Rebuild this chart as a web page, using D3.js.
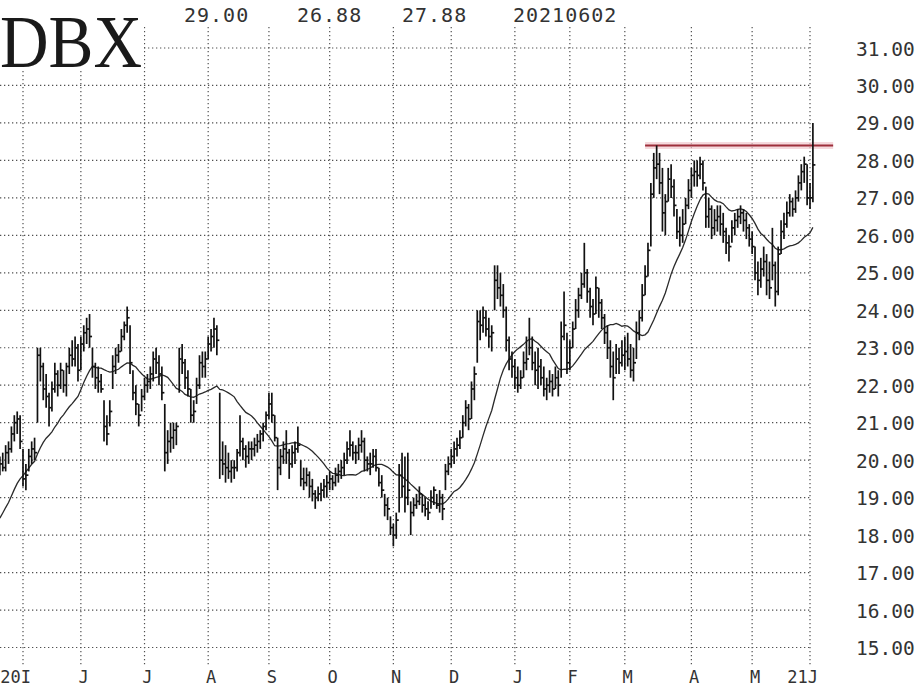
<!DOCTYPE html>
<html><head><meta charset="utf-8">
<script src="https://cdn.jsdelivr.net/npm/d3@7"></script>
<style>html,body{margin:0;padding:0;background:#fff;} svg{display:block;}</style>
</head><body>
<svg id="chart" width="918" height="686"></svg>
<script>
const symbol = "DBX";
const headerValues = ["29.00", "26.88", "27.88", "20210602"];
const priceTicks = [15, 16, 17, 18, 19, 20, 21, 22, 23, 24, 25, 26, 27, 28, 29, 30, 31];
const monthLabels = ["20I", "J", "J", "A", "S", "O", "N", "D", "J", "F", "M", "A", "M", "21J"];
const monthStartIndex = [8, 28, 50, 72, 93, 114, 136, 156, 178, 197, 216, 239, 260, 280];

const highs = [
20.1,20.2,20.4,20.5,20.9,21.2,21.3,21.2,20.3,19.9,
20.3,20.5,20.6,23.0,23.0,22.6,22.3,21.8,22.1,22.6,
22.4,22.6,22.4,22.6,23.0,23.2,23.3,23.1,23.3,23.6,
23.8,23.9,23.0,22.6,22.5,22.3,21.6,21.2,21.6,22.8,
23.0,23.1,23.5,23.7,24.1,23.6,22.4,22.0,21.5,21.9,
22.2,22.3,22.5,22.9,23.0,22.8,22.5,21.5,20.8,21.0,
21.0,21.0,23.0,23.1,22.7,22.4,21.9,21.6,22.2,22.8,
22.9,22.9,23.3,23.5,23.8,23.6,21.8,20.5,20.4,20.2,
20.0,20.0,20.3,21.2,20.6,20.4,20.5,20.5,20.6,20.7,
20.8,21.0,21.3,21.8,21.8,21.2,20.6,20.3,20.5,20.8,
20.3,20.4,20.5,20.9,20.0,19.8,19.8,19.7,19.5,19.2,
19.3,19.4,19.5,19.6,19.7,19.6,19.8,19.9,20.0,20.2,
20.5,20.8,20.5,20.4,20.6,20.8,20.6,20.1,20.2,20.3,
20.3,19.8,19.6,19.1,19.0,18.5,18.3,18.6,19.9,20.2,
20.1,20.2,18.9,19.0,19.1,19.3,19.1,19.0,18.9,19.2,
19.3,19.1,19.2,19.1,19.9,20.1,20.3,20.5,20.6,20.8,
21.2,21.6,21.5,22.1,22.5,24.0,24.0,24.1,24.0,23.8,
23.6,25.2,25.2,25.0,24.7,24.1,23.3,22.9,22.7,22.5,
22.4,22.9,23.3,23.8,23.3,22.9,23.0,22.7,22.5,22.2,
22.4,22.3,22.5,22.4,23.7,24.5,23.4,23.2,23.7,24.3,
24.6,25.0,25.8,25.1,24.6,24.3,24.9,24.6,24.3,23.9,
23.6,23.2,22.9,23.1,23.0,23.2,23.3,23.4,23.1,23.0,
23.7,24.0,24.7,25.2,25.8,27.4,28.2,28.4,28.2,27.8,
27.1,27.8,27.9,27.5,26.7,26.5,26.7,27.0,27.5,27.8,
28.0,28.0,28.1,28.0,27.3,27.0,26.8,26.7,26.8,26.8,
26.6,26.2,26.0,26.4,26.6,26.7,26.8,26.7,26.6,26.3,
26.1,25.7,25.3,25.4,25.7,25.5,25.3,26.2,25.3,25.7,
26.4,26.6,26.9,27.1,27.0,27.2,27.6,27.9,28.1,27.9,
27.4,29.0
];
const lows = [
19.6,19.7,19.7,19.9,20.2,20.5,20.7,20.3,19.3,19.2,
19.7,19.9,20.0,21.0,22.1,21.6,21.4,20.9,21.3,21.8,
21.7,21.9,21.8,21.7,22.3,22.5,22.5,22.1,22.4,22.9,
23.1,23.0,22.2,21.9,21.8,21.8,20.5,20.4,20.9,21.9,
22.3,22.6,22.9,23.2,23.4,22.3,21.6,21.2,20.9,21.3,
21.6,21.8,21.9,22.1,22.3,22.0,21.6,19.7,19.9,20.2,
20.3,20.4,21.8,22.3,21.9,21.7,21.0,21.0,21.5,21.9,
22.2,22.2,22.7,22.9,23.0,22.8,19.5,19.6,19.4,19.5,
19.4,19.5,19.7,20.1,20.0,19.8,19.9,20.0,20.1,20.2,
20.3,20.5,20.8,21.1,21.0,20.5,19.2,19.6,19.9,19.9,
19.5,19.8,19.9,20.2,19.3,19.2,19.3,19.0,18.9,18.7,
18.9,18.9,19.0,19.0,19.2,19.2,19.3,19.4,19.5,19.6,
19.9,20.1,20.0,19.9,20.0,20.2,19.7,19.7,19.6,19.8,
19.7,19.3,19.0,18.5,18.4,18.0,17.7,17.9,18.6,19.0,
18.6,18.8,18.0,18.5,18.7,18.8,18.6,18.5,18.4,18.7,
18.8,18.7,18.6,18.4,19.2,19.6,19.8,19.9,20.1,20.3,
20.6,20.9,20.8,21.1,21.6,22.6,23.2,23.4,23.3,23.0,
22.9,24.0,24.3,24.1,23.8,22.9,22.4,22.2,21.9,21.8,
21.9,22.2,22.4,22.8,22.4,22.0,21.9,22.0,21.7,21.6,
21.8,21.7,21.9,21.7,22.2,23.2,22.3,22.4,23.0,23.5,
23.8,24.3,24.6,24.2,23.8,23.6,23.9,23.8,23.5,23.1,
22.7,22.2,21.6,22.3,22.3,22.5,22.4,22.5,22.2,22.1,
22.7,23.2,23.7,24.4,24.9,25.7,27.0,27.5,27.1,26.1,
26.0,26.9,27.0,26.5,25.9,25.7,25.8,26.3,26.7,27.0,
27.3,27.3,27.5,27.2,26.2,26.2,25.9,26.0,26.1,26.0,
25.8,25.5,25.3,25.8,26.0,26.2,26.3,26.1,25.9,25.7,
25.5,24.8,24.4,24.6,24.9,24.4,24.3,24.8,24.1,24.4,
25.5,25.9,26.2,26.5,26.5,26.6,26.9,27.2,27.4,26.8,
26.7,26.88
];
const closes = [
19.9,19.8,20.2,20.3,20.7,21.0,21.1,20.5,19.5,19.6,
20.1,20.3,20.2,22.8,22.5,21.9,21.7,21.4,21.9,22.3,
22.0,22.4,22.0,22.5,22.8,22.7,23.0,22.4,23.1,23.4,
23.5,23.3,22.5,22.2,22.1,21.9,20.9,20.7,21.3,22.5,
22.8,22.9,23.3,23.6,23.8,22.6,21.8,21.5,21.2,21.7,
22.0,22.1,22.3,22.7,22.6,22.3,21.8,20.2,20.5,20.6,
20.8,20.9,22.7,22.6,22.2,21.9,21.2,21.3,22.0,22.6,
22.5,22.7,23.1,23.3,23.5,23.2,20.0,19.9,19.8,19.7,
19.8,19.8,20.2,20.5,20.3,20.1,20.3,20.3,20.4,20.5,
20.7,20.9,21.2,21.5,21.2,20.6,19.8,20.1,20.3,20.2,
19.9,20.2,20.3,20.4,19.5,19.4,19.6,19.3,19.1,19.0,
19.1,19.2,19.3,19.4,19.5,19.4,19.6,19.7,19.8,20.0,
20.3,20.4,20.2,20.2,20.4,20.5,20.0,19.9,19.9,20.1,
19.8,19.4,19.2,18.8,18.7,18.2,18.0,18.4,19.6,19.3,
19.0,19.2,18.6,18.8,18.9,19.1,18.8,18.7,18.6,19.0,
19.2,18.8,19.0,18.7,19.7,19.9,20.1,20.3,20.4,20.6,
21.0,21.4,21.1,21.9,22.3,23.7,23.6,23.8,23.5,23.3,
23.4,24.8,24.6,24.4,24.0,23.2,22.7,22.5,22.2,22.0,
22.2,22.6,22.7,23.0,22.6,22.4,22.5,22.2,21.9,22.0,
22.1,21.9,22.2,22.0,23.3,23.6,22.6,23.0,23.5,24.0,
24.4,24.7,25.0,24.5,24.1,23.9,24.6,24.2,23.8,23.4,
23.0,22.5,22.2,22.7,22.6,22.8,22.9,22.7,22.4,22.6,
23.4,23.8,24.4,24.9,25.6,27.1,27.8,27.9,27.4,26.6,
26.9,27.5,27.3,26.8,26.1,26.0,26.3,26.8,27.2,27.6,
27.7,27.6,27.9,27.4,26.5,26.7,26.2,26.4,26.5,26.3,
26.1,25.8,25.7,26.2,26.4,26.5,26.6,26.4,26.2,25.9,
25.7,25.0,24.8,25.1,25.3,24.8,24.6,25.2,24.5,25.5,
26.1,26.3,26.6,26.9,26.7,27.0,27.4,27.7,27.9,27.0,
27.0,27.88
];
// closes of the 19 sessions before the first drawn bar (feed the first moving-average points)
const priorCloses = [17.0,17.3,17.6,17.2,17.5,17.9,18.1,17.8,17.6,18.0,18.3,18.6,18.9,19.2,19.0,19.5,19.8,20.1,19.7];
const maPeriod = 20;
const resistanceLevel = 28.4;
const resistanceFrom = 223;
const resistanceTo = 288;

const svg = d3.select("#chart");
const x = d3.scaleLinear().domain([monthStartIndex[0], monthStartIndex[monthStartIndex.length - 1]]).range([23, 810]);
const y = d3.scaleLinear().domain([15, 31]).range([647.5, 48]);
const gridRight = x(monthStartIndex[monthStartIndex.length - 1]);

const grid = svg.append("g").attr("stroke", "#505050").attr("stroke-width", 1.2).attr("stroke-dasharray", "1.3,2.7");
grid.selectAll("line.h").data(priceTicks).join("line").attr("class", "h")
  .attr("x1", 0).attr("x2", gridRight).attr("y1", d => y(d)).attr("y2", d => y(d));
grid.selectAll("line.v").data(monthStartIndex).join("line").attr("class", "v")
  .attr("x1", d => x(d)).attr("x2", d => x(d)).attr("y1", 27).attr("y2", 665);

// title box
svg.append("rect").attr("x", 0).attr("y", 0).attr("width", 144).attr("height", 70).attr("fill", "#fff");
svg.append("text").attr("x", 0).attr("y", 67).text(symbol)
  .attr("font-family", "Liberation Serif, Times New Roman, serif").attr("font-size", 74)
  .attr("textLength", 142).attr("lengthAdjust", "spacingAndGlyphs").attr("fill", "#1a1a1a");

const mono = "DejaVu Sans Mono, Liberation Mono, monospace";
const headerX = [184, 297, 402, 513];
svg.selectAll("text.hdr").data(headerValues).join("text").attr("class", "hdr")
  .attr("x", (d, i) => headerX[i]).attr("y", 22).text(d => d)
  .attr("font-family", mono).attr("font-size", 20).attr("letter-spacing", 1).attr("fill", "#333");

svg.selectAll("text.yl").data(priceTicks).join("text").attr("class", "yl")
  .attr("x", 856).attr("y", d => y(d) + 7.5).text(d => d3.format(".2f")(d))
  .attr("font-family", mono).attr("font-size", 19.5).attr("fill", "#333");

svg.selectAll("text.xl").data(monthLabels).join("text").attr("class", "xl")
  .attr("x", (d, i) => x(monthStartIndex[i]) + 8).attr("y", 683).attr("text-anchor", "end").text(d => d)
  .attr("font-family", mono).attr("font-size", 17).attr("fill", "#333");

// resistance line
const rl = svg.append("g");
rl.append("line").attr("x1", x(resistanceFrom)).attr("x2", x(resistanceTo))
  .attr("y1", y(resistanceLevel)).attr("y2", y(resistanceLevel))
  .attr("stroke", "#f2c9cf").attr("stroke-width", 7).attr("opacity", 0.7);
rl.append("line").attr("x1", x(resistanceFrom)).attr("x2", x(resistanceTo))
  .attr("y1", y(resistanceLevel)).attr("y2", y(resistanceLevel))
  .attr("stroke", "#9e2f3b").attr("stroke-width", 2);

// moving average
const allCloses = priorCloses.concat(closes);
const ma = closes.map((c, i) => d3.mean(allCloses.slice(i + priorCloses.length - maPeriod + 1, i + priorCloses.length + 1)));
svg.append("path").datum(ma)
  .attr("d", d3.line().x((d, i) => x(i)).y(d => y(d)))
  .attr("fill", "none").attr("stroke", "#2a2a2a").attr("stroke-width", 1.3);

// price bars
const bars = svg.append("g").attr("stroke", "#111").attr("stroke-width", 1.7);
bars.selectAll("line.hl").data(closes).join("line").attr("class", "hl")
  .attr("x1", (d, i) => x(i)).attr("x2", (d, i) => x(i))
  .attr("y1", (d, i) => y(highs[i])).attr("y2", (d, i) => y(lows[i]));
bars.selectAll("line.cl").data(closes).join("line").attr("class", "cl")
  .attr("x1", (d, i) => x(i)).attr("x2", (d, i) => x(i) + 2.5)
  .attr("y1", d => y(d)).attr("y2", d => y(d));
</script>
</body></html>
